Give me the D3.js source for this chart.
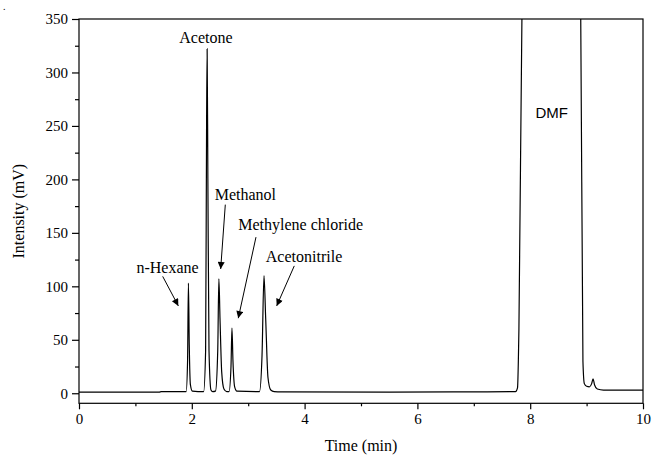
<!DOCTYPE html>
<html>
<head>
<meta charset="utf-8">
<script src="https://cdn.jsdelivr.net/npm/d3@7"></script>
<style>
    html, body { margin: 0; padding: 0; background: #fff; }
    svg text { font-family: "Liberation Serif", "Times New Roman", serif; fill: #000; }
    .axis path { display: none; }
    .axis line { stroke: #000; stroke-width: 1.2; }
    .trace { fill: none; stroke: #000; stroke-width: 1.2; }
    .frame { fill: none; stroke: #000; stroke-width: 1.2; }
    .arrow { stroke: #000; stroke-width: 1; }
</style>
</head>
<body>
<div id="chart"></div>
<script>
/*
 * Chromatogram trace (time in min, intensity in mV).
 */
var traceTimes = [
    0, 1.42, 1.46, 1.90, 1.925, 1.94, 1.955, 1.975, 2.01,
    2.21, 2.245, 2.262, 2.272, 2.285, 2.305, 2.34, 2.37,
    2.42, 2.46, 2.48, 2.50, 2.53, 2.57, 2.62,
    2.66, 2.695, 2.712, 2.73, 2.76, 2.80,
    3.20, 3.245, 3.28, 3.31, 3.35, 3.40, 3.46,
    3.6, 5.5, 7.0, 7.74, 7.775, 7.80, 7.855, 8.37,
    8.895, 8.935, 8.96, 9.0, 9.05, 9.09, 9.115, 9.14, 9.19, 9.3, 10
];
var traceValues = [
    1, 1, 1.6, 1.6, 30, 103, 45, 8, 2,
    1.5, 40, 250, 322, 200, 40, 3, 1.5,
    2, 40, 107, 70, 20, 4, 1.5,
    1.5, 25, 61, 30, 6, 2,
    1.5, 35, 110, 70, 15, 3, 1.5,
    1.3, 1, 1.3, 1.5, 5, 60, 360, 1200,
    360, 30, 9, 6.5, 6, 9, 13.5, 8, 4, 3, 3
];

/*
 * Axis ticks.
 */
var xTicks = [0, 2, 4, 6, 8, 10];
var xMinorTicks = [1, 3, 5, 7, 9];
var yTicks = [0, 50, 100, 150, 200, 250, 300, 350];
var yMinorTicks = [25, 75, 125, 175, 225, 275, 325];

/*
 * Peak annotations: label, label anchor (time, value), arrow from / to.
 */
var peakNames = ['n-Hexane', 'Acetone', 'Methanol', 'Methylene chloride', 'Acetonitrile', 'DMF'];
var labelTimes = [1.57, 2.25, 2.95, 3.93, 3.99, 8.38];
var labelValues = [112.9, 327.8, 180.9, 152.8, 123.2, 257.7];
var arrowFrom = [[1.484, 109.3], null, [2.594, 176.4], [3.138, 146.0], [3.817, 119.1], null];
var arrowTo = [[1.761, 81.7], null, [2.512, 116.2], [2.824, 70.2], [3.505, 81.7], null];

/**
 * Chromatogram chart.
 * @public
 * @class
 */
function Chromatogram() {
    /*
     * Outer size and plot area.
     */
    this._width = 652;
    this._height = 457;
    this._plot = { left: 79, right: 643, top: 19, bottom: 403.3 };
    /*
     * Scales.
     */
    this._xScale = d3.scaleLinear()
        .domain([0, 10])
        .range([this._plot.left, this._plot.right]);
    this._yScale = d3.scaleLinear()
        .domain([-9.4, 350])
        .range([this._plot.bottom, this._plot.top]);
}


/**
 * Draw one axis and restyle its labels.
 * @private
 */
Chromatogram.prototype._axis = function(axis, transform) {

    var g = this._svg.append('g')
        .attr('class', 'axis')
        .attr('transform', transform)
        .call(axis)
        .attr('font-family', null)
        .attr('font-size', null);
    g.selectAll('text')
        .style('font-family', '"Liberation Serif", "Times New Roman", serif')
        .style('font-size', '15px');

    return g;
};


/**
 * Render chart.
 * @public
 * @param {String} selection
 * @returns {Chromatogram}
 */
Chromatogram.prototype.renderTo = function(selection) {

    var self = this;
    var x = this._xScale, y = this._yScale, p = this._plot;

    this._svg = d3.select(selection).append('svg')
        .attr('width', this._width)
        .attr('height', this._height);

    var defs = this._svg.append('defs');
    defs.append('clipPath')
        .attr('id', 'plot-clip')
        .append('rect')
        .attr('x', p.left)
        .attr('y', p.top)
        .attr('width', p.right - p.left)
        .attr('height', p.bottom - p.top);
    defs.append('marker')
        .attr('id', 'head')
        .attr('viewBox', '0 0 10 10')
        .attr('refX', 10)
        .attr('refY', 5)
        .attr('markerWidth', 9)
        .attr('markerHeight', 7)
        .attr('markerUnits', 'userSpaceOnUse')
        .attr('orient', 'auto')
        .append('path')
        .attr('d', 'M0,0 L10,5 L0,10 Z')
        .attr('fill', '#000');
    /*
     * Axes: major and minor ticks, outward.
     */
    var bottom = 'translate(0,' + p.bottom + ')', left = 'translate(' + p.left + ',0)';
    this._axis(d3.axisBottom(x).tickValues(xTicks).tickSize(6).tickPadding(4).tickFormat(d3.format('d')), bottom);
    this._axis(d3.axisBottom(x).tickValues(xMinorTicks).tickSize(3).tickFormat(''), bottom);
    this._axis(d3.axisLeft(y).tickValues(yTicks).tickSize(7).tickPadding(4).tickFormat(d3.format('d')), left);
    this._axis(d3.axisLeft(y).tickValues(yMinorTicks).tickSize(4).tickFormat(''), left);
    /*
     * Frame.
     */
    this._svg.append('rect')
        .attr('class', 'frame')
        .attr('x', p.left)
        .attr('y', p.top)
        .attr('width', p.right - p.left)
        .attr('height', p.bottom - p.top);
    /*
     * Trace.
     */
    var points = traceTimes.map(function(t, i) {
        return { t: t, v: traceValues[i] };
    });
    var line = d3.line()
        .x(d => x(d.t))
        .y(d => y(d.v))
        .curve(d3.curveMonotoneX);
    this._svg.append('path')
        .attr('class', 'trace')
        .attr('clip-path', 'url(#plot-clip)')
        .attr('d', line(points));
    /*
     * Peak labels and arrows.
     */
    peakNames.forEach(function(name, i) {
        self._svg.append('text')
            .attr('x', x(labelTimes[i]))
            .attr('y', y(labelValues[i]))
            .attr('text-anchor', 'middle')
            .style('font-size', name === 'DMF' ? '15px' : '16px')
            .style('font-family', name === 'DMF' ? '"Liberation Sans", Arial, sans-serif' : null)
            .text(name);
        if (arrowFrom[i]) {
            self._svg.append('line')
                .attr('class', 'arrow')
                .attr('x1', x(arrowFrom[i][0]))
                .attr('y1', y(arrowFrom[i][1]))
                .attr('x2', x(arrowTo[i][0]))
                .attr('y2', y(arrowTo[i][1]))
                .attr('marker-end', 'url(#head)');
        }
    });
    /*
     * Axis titles.
     */
    this._svg.append('text')
        .attr('x', (p.left + p.right) / 2)
        .attr('y', 451)
        .attr('text-anchor', 'middle')
        .style('font-size', '16px')
        .text('Time (min)');
    this._svg.append('text')
        .attr('transform', 'translate(24,' + ((p.top + p.bottom) / 2) + ') rotate(-90)')
        .attr('text-anchor', 'middle')
        .style('font-size', '16px')
        .text('Intensity (mV)');
    this._svg.append('text')
        .attr('x', 3)
        .attr('y', 10)
        .style('font-size', '10px')
        .text('.');

    return this;
};


new Chromatogram().renderTo('#chart');
</script>
</body>
</html>
